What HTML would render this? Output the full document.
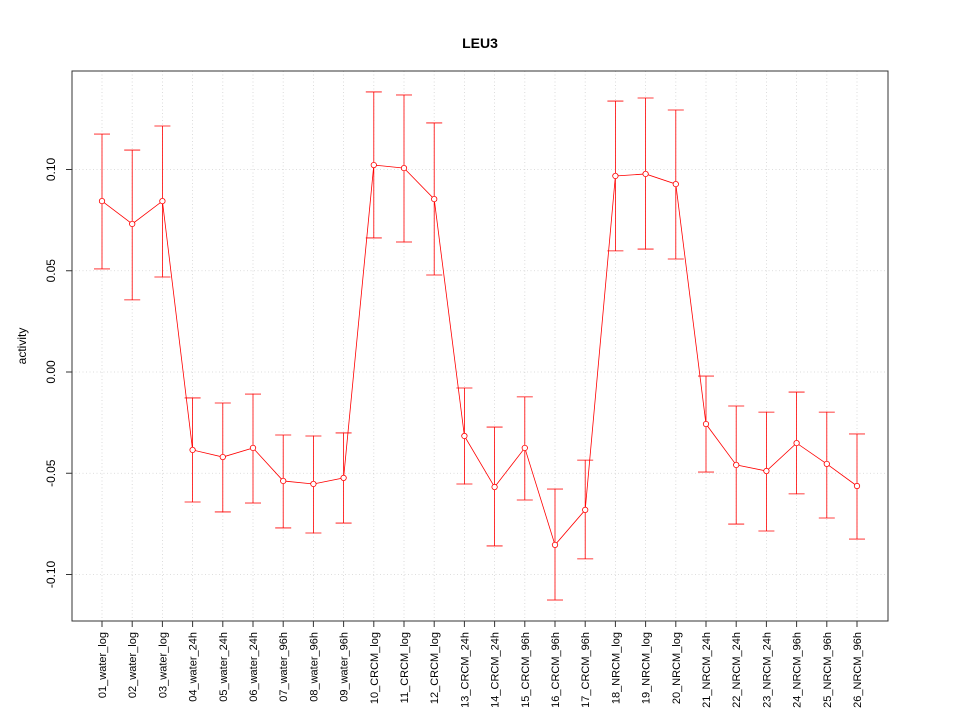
<!DOCTYPE html>
<html><head><meta charset="utf-8"><style>
html,body{margin:0;padding:0;background:#fff;}
svg{display:block;font-family:"Liberation Sans",sans-serif;}
</style></head><body>
<svg id="chart" width="960" height="720"></svg>
<script>
const categories=["01_water_log","02_water_log","03_water_log","04_water_24h","05_water_24h","06_water_24h","07_water_96h","08_water_96h","09_water_96h","10_CRCM_log","11_CRCM_log","12_CRCM_log","13_CRCM_24h","14_CRCM_24h","15_CRCM_96h","16_CRCM_96h","17_CRCM_96h","18_NRCM_log","19_NRCM_log","20_NRCM_log","21_NRCM_24h","22_NRCM_24h","23_NRCM_24h","24_NRCM_96h","25_NRCM_96h","26_NRCM_96h"];
const centers=[0.0844,0.0731,0.0844,-0.0385,-0.042,-0.0375,-0.0538,-0.0553,-0.0523,0.1022,0.1007,0.0854,-0.0316,-0.0568,-0.0375,-0.0854,-0.0681,0.0968,0.0978,0.0928,-0.0257,-0.0459,-0.0489,-0.0351,-0.0454,-0.0563];
const uppers=[0.1175,0.1096,0.1215,-0.0128,-0.0153,-0.0109,-0.0311,-0.0316,-0.0301,0.1383,0.1368,0.123,-0.0079,-0.0272,-0.0123,-0.0578,-0.0435,0.1338,0.1353,0.1294,-0.002,-0.0168,-0.0198,-0.0099,-0.0198,-0.0306];
const lowers=[0.0509,0.0356,0.0469,-0.0642,-0.0691,-0.0647,-0.077,-0.0795,-0.0746,0.0662,0.0642,0.0479,-0.0553,-0.0859,-0.0632,-0.1126,-0.0923,0.0598,0.0607,0.0558,-0.0494,-0.0751,-0.0785,-0.0602,-0.0721,-0.0825];
const yTicks=[-0.10,-0.05,0.00,0.05,0.10];
const yTickLabels=["-0.10","-0.05","0.00","0.05","0.10"];

const NS="http://www.w3.org/2000/svg";
const svg=document.getElementById('chart');
const L=72,R=888,T=71,B=621;
function xs(i){return 102+i*(857-102)/(categories.length-1);}
function ys(v){return 372-v*2025;}
function mk(tag,attrs,parent){const e=document.createElementNS(NS,tag);for(const k in attrs)e.setAttribute(k,attrs[k]);(parent||svg).appendChild(e);return e;}

const grid=mk('g',{});


categories.forEach((c,i)=>{mk('line',{x1:xs(i),x2:xs(i),y1:T,y2:B,stroke:'#d3d3d3','stroke-width':0.8,'stroke-dasharray':'1,2.5'},grid);});
yTicks.forEach(v=>{mk('line',{x1:L,x2:R,y1:ys(v),y2:ys(v),stroke:'#d3d3d3','stroke-width':0.8,'stroke-dasharray':'1,2.5'},grid);});

const frame=mk('rect',{x:L,y:T,width:R-L,height:B-T,fill:'none',stroke:'#333'});



const title=mk('text',{x:480,y:48,'text-anchor':'middle','font-size':14,'font-weight':'bold'});
title.textContent='LEU3';



const yax=mk('g',{});


yTicks.forEach((v,i)=>{
  mk('line',{x1:L-6,x2:L,y1:ys(v),y2:ys(v),stroke:'#333'},yax);
  const t=mk('text',{x:0,y:0,'text-anchor':'middle','font-size':12,transform:`translate(55,${ys(v)}) rotate(-90)`},yax);
  t.textContent=yTickLabels[i];
  
  
});
const yt=mk('text',{x:0,y:0,'text-anchor':'middle','font-size':12,transform:'translate(26,346) rotate(-90)'});
yt.textContent='activity';



const xax=mk('g',{});


categories.forEach((c,i)=>{
  mk('line',{x1:xs(i),x2:xs(i),y1:B,y2:B+6,stroke:'#333'},xax);
  const t=mk('text',{x:0,y:0,'text-anchor':'end','font-size':11,transform:`translate(${xs(i)+4},632) rotate(-90)`},xax);
  t.textContent=c;
  
  
});

const ser=mk('g',{});


mk('polyline',{points:centers.map((v,i)=>xs(i)+','+ys(v)).join(' '),fill:'none',stroke:'#f00','stroke-width':0.8},ser);
centers.forEach((v,i)=>{
  const g=mk('g',{},ser);
  
  
  const x=xs(i);
  mk('line',{x1:x,x2:x,y1:ys(uppers[i]),y2:ys(lowers[i]),stroke:'#f00','stroke-width':0.8},g);
  mk('line',{x1:x-8,x2:x+8,y1:ys(uppers[i]),y2:ys(uppers[i]),stroke:'#f00','stroke-width':0.8},g);
  mk('line',{x1:x-8,x2:x+8,y1:ys(lowers[i]),y2:ys(lowers[i]),stroke:'#f00','stroke-width':0.8},g);
  const p=mk('circle',{cx:x,cy:ys(v),r:2.7,fill:'#fff',stroke:'#f00','stroke-width':0.8},ser);
  
  
});
</script>
</body></html>
